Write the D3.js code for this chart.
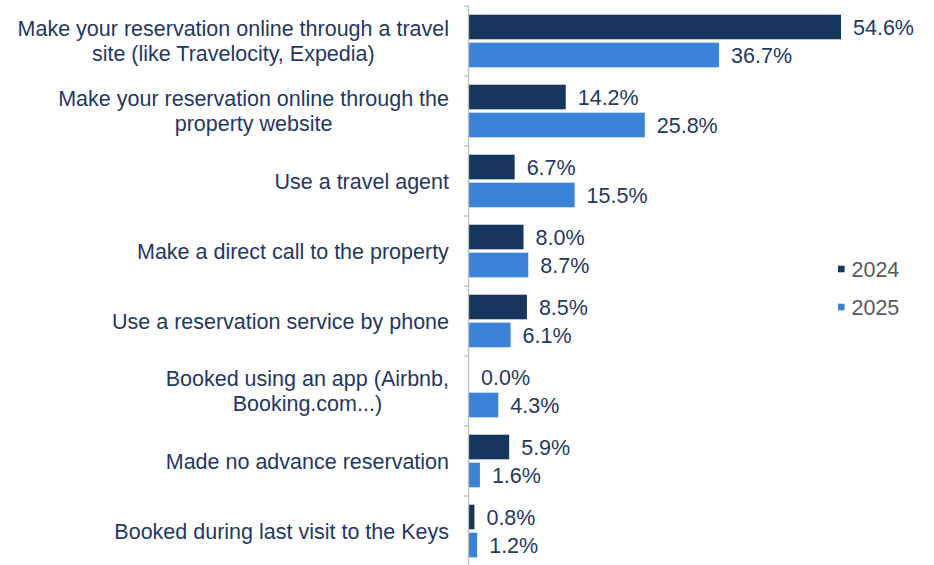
<!DOCTYPE html>
<html><head><meta charset="utf-8">
<script src="https://cdn.jsdelivr.net/npm/d3@7"></script>
<style>body{margin:0;background:#fff;}svg{display:block;font-family:"Liberation Sans",Arial,sans-serif;}</style>
</head><body><svg id="c" width="934" height="565"></svg>
<script>
const categories = [
  ["Make your reservation online through a travel","site (like Travelocity, Expedia)"],
  ["Make your reservation online through the","property website"],
  ["Use a travel agent"],
  ["Make a direct call to the property"],
  ["Use a reservation service by phone"],
  ["Booked using an app (Airbnb,","Booking.com...)"],
  ["Made no advance reservation"],
  ["Booked during last visit to the Keys"]
];
const series = ["2024","2025"];
const values2024 = [54.6,14.2,6.7,8.0,8.5,0.0,5.9,0.8];
const values2025 = [36.7,25.8,15.5,8.7,6.1,4.3,1.6,1.2];
const colors = ["#17365d","#3a83d6"];

const svg = d3.select("#c");
const x0 = 469;
const x = d3.scaleLinear().domain([0,54.6]).range([x0,841]);
const y = d3.scaleBand().domain(d3.range(categories.length)).range([6,566]).paddingInner(0).paddingOuter(0);
const sub = d3.scaleBand().domain(series).range([8.7,61.3]).paddingInner(0.12);
const fs = 21.5;

const data = [values2024, values2025];
const g = svg.append("g");
categories.forEach((c,i)=>{
  series.forEach((s,j)=>{
    const v = data[j][i];
    const yy = y(i)+sub(s);
    g.append("rect").attr("x",x0).attr("y",yy).attr("width",x(v)-x0).attr("height",sub.bandwidth()).attr("fill",colors[j]);
    g.append("text").attr("x",x(v)+12).attr("y",yy+sub.bandwidth()/2).attr("dy","0.36em")
      .attr("fill","#1f3864").attr("font-size",fs).text(v.toFixed(1)+"%");
  });
  const lines = c;
  const t = g.append("text").attr("fill","#1f3864").attr("font-size",fs).attr("text-anchor","middle");
  lines.forEach((l,k)=>{
    t.append("tspan").attr("x",0).attr("y",y(i)+y.bandwidth()/2 + (k-(lines.length-1)/2)*25).attr("dy","0.35em").text(l);
  });
  const bb = t.node().getBBox();
  t.attr("transform",`translate(${449 - bb.width/2},0)`);
});
// axis
const ax = svg.append("g").attr("stroke","#bfbfbf").attr("stroke-width",1.3);
ax.append("line").attr("x1",x0-0.5).attr("x2",x0-0.5).attr("y1",y.range()[0]).attr("y2",y.range()[1]);
d3.range(categories.length+1).forEach(i=>{
  const yy = y.range()[0]+i*y.step();
  ax.append("line").attr("x1",x0-5).attr("x2",x0).attr("y1",yy).attr("y2",yy);
});
// legend
series.forEach((s,j)=>{
  const ly = 269 + j*38;
  svg.append("rect").attr("x",838).attr("y",ly-3.3).attr("width",6.6).attr("height",6.6).attr("fill",colors[j]);
  svg.append("text").attr("x",851.5).attr("y",ly).attr("dy","0.36em").attr("font-size",fs).attr("fill","#595959").text(s);
});
</script></body></html>
